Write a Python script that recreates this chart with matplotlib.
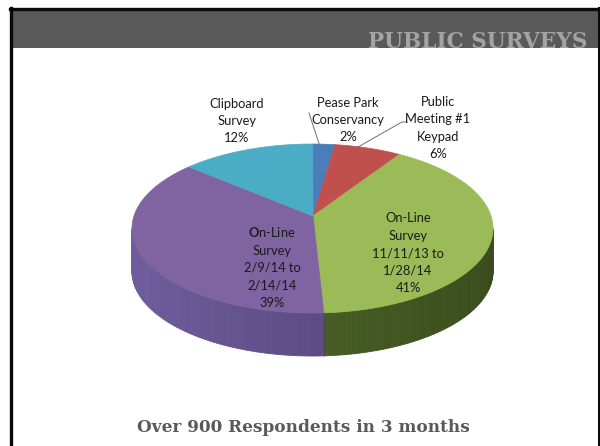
import numpy as np
import matplotlib
matplotlib.use("Agg")
import matplotlib.pyplot as plt
from matplotlib.patches import Rectangle, Polygon

# Survey sources and their share of respondents (%)
categories = [
    "Pease Park\nConservancy",
    "Public\nMeeting #1\nKeypad",
    "On-Line\nSurvey\n11/11/13 to\n1/28/14",
    "On-Line\nSurvey\n2/9/14 to\n2/14/14",
    "Clipboard\nSurvey",
]
shares = [2, 6, 41, 39, 12]
top_colors = ["#4a7ebb", "#c0504d", "#9bbb59", "#8064a2", "#4bacc6"]
# side wall colours (left end, right end) for the front-facing slices
side_colors = {2: ("#55702c", "#3a4c1d"), 3: ("#6e5c9c", "#4c3d6e")}

title = "PUBLIC SURVEYS"
caption = "Over 900 Respondents in 3 months"

plt.rcParams["mathtext.fontset"] = "custom"
plt.rcParams["mathtext.rm"] = "Lato"
plt.rcParams["mathtext.bf"] = "Lato:bold"

fig = plt.figure(figsize=(6.0, 4.46), dpi=100)
ax = fig.add_axes([0, 0, 1, 1])
ax.set_xlim(0, 600)
ax.set_ylim(446, 0)
ax.axis("off")

# slide frame and header band
ax.add_patch(Rectangle((12, 10.5), 586, 37, facecolor="#595959", edgecolor="none", zorder=1))
ax.plot([11, 11], [8, 446], color="#0a0a0a", lw=2.4, zorder=2)
ax.plot([598.8, 598.8], [8, 446], color="#0a0a0a", lw=2.2, zorder=2)
ax.plot([9.8, 600], [9.2, 9.2], color="#0a0a0a", lw=2.4, zorder=2)
ax.text(587, 47.5, title, ha="right", va="baseline", family="DejaVu Serif",
        weight="bold", fontsize=15.6, color="#a3a3a3", zorder=3)

# 3D pie geometry (pixel space)
cx, cy, rx, ry = 312.5, 228.5, 180.5, 84.5
vx, vy = 313.0, 216.0
depth = 43.0


def rim(t):
    return cx + rx * np.sin(t), cy - ry * np.cos(t)


fracs = np.array(shares, dtype=float) / np.sum(shares)
bounds = np.concatenate([[0.0], np.cumsum(fracs)]) * 2 * np.pi


def mix(c1, c2, f):
    a = np.array(matplotlib.colors.to_rgb(c1))
    b = np.array(matplotlib.colors.to_rgb(c2))
    return tuple(a + (b - a) * f)


# side walls of the front half (angles between 90 and 270 degrees)
for i in range(len(shares)):
    a0 = max(bounds[i], np.pi / 2)
    a1 = min(bounds[i + 1], 3 * np.pi / 2)
    if a1 <= a0:
        continue
    cl, cr = side_colors.get(i, (top_colors[i], top_colors[i]))
    ts = np.linspace(a0, a1, 80)
    for k in range(len(ts) - 1):
        x0, y0 = rim(ts[k])
        x1, y1 = rim(ts[k + 1])
        f = np.clip((0.5 * (x0 + x1) - (cx - rx)) / (2 * rx), 0, 1)
        col = mix(cl, cr, f)
        ax.add_patch(Polygon([(x0, y0), (x1, y1), (x1, y1 + depth), (x0, y0 + depth)],
                             closed=True, facecolor=col, edgecolor=col, lw=0.6, zorder=4))
    x, y = rim(bounds[i + 1])
    if bounds[i + 1] < 3 * np.pi / 2:
        ax.plot([x, x], [y, y + depth], color="#3c3050", lw=0.6, alpha=0.5, zorder=5)

# top face
for i in range(len(shares)):
    ts = np.linspace(bounds[i], bounds[i + 1], 120)
    xs, ys = rim(ts)
    pts = [(vx, vy)] + list(zip(xs, ys))
    ax.add_patch(Polygon(pts, closed=True, facecolor=top_colors[i],
                         edgecolor=top_colors[i], lw=0.5, zorder=6))

# labels
label_style = dict(ha="center", va="center", family="Lato", fontsize=9.3,
                   color="#1a1a1a", linespacing=1.53, zorder=8)
labels = [f"{c}\n{s}%" for c, s in zip(categories, shares)]
labels[3] = labels[3].replace("On-Line", r"$\mathbf{O}$n-Line", 1)
label_pos = [(348, 120), (438, 128), (408, 253), (272, 267), (237, 121)]
for txt, (lx, ly) in zip(labels, label_pos):
    ax.text(lx, ly, txt, **label_style)

# leader lines for the thin slices
ax.plot([309, 319], [113, 143.5], color="#6f6f6f", lw=0.7, zorder=7)
ax.plot([407, 402, 358], [122, 122, 147], color="#6f6f6f", lw=0.7, zorder=7)

ax.text(303, 428, caption, ha="center", va="center", family="DejaVu Serif",
        weight="bold", fontsize=12.2, color="#595959", zorder=3)

fig.savefig("out.png", dpi=100)
